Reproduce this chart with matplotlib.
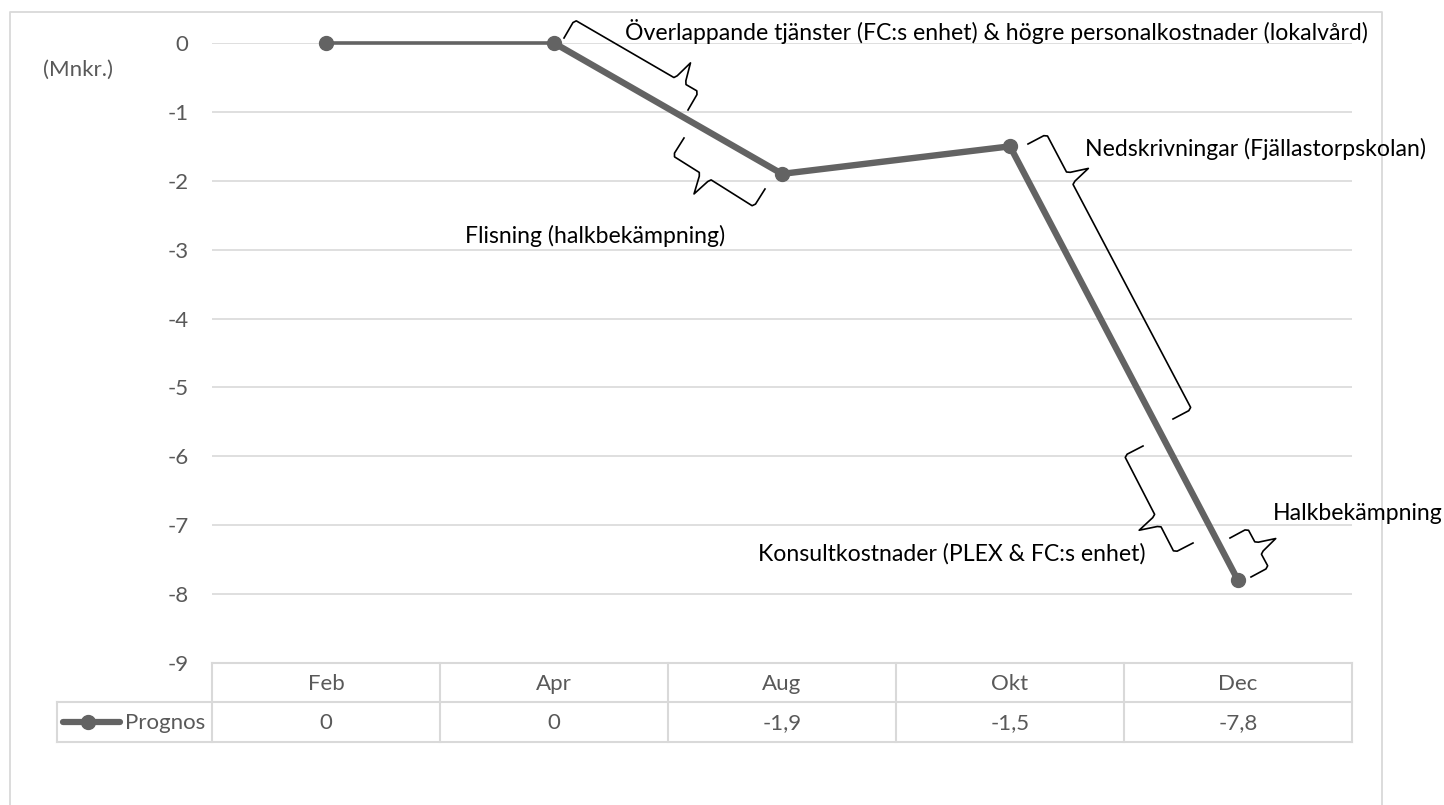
import numpy as np
import matplotlib
matplotlib.use("Agg")
import matplotlib.pyplot as plt
from matplotlib.transforms import blended_transform_factory

plt.rcParams['font.family'] = ['Lato', 'DejaVu Sans']

# ---------------- data ----------------
months = ["Feb", "Apr", "Aug", "Okt", "Dec"]
prognos = [0, 0, -1.9, -1.5, -7.8]
series_name = "Prognos"
y_ticks = [0, -1, -2, -3, -4, -5, -6, -7, -8, -9]
unit_label = "(Mnkr.)"
notes = [
    "Överlappande tjänster (FC:s enhet) & högre personalkostnader (lokalvård)",
    "Flisning (halkbekämpning)",
    "Nedskrivningar (Fjällastorpskolan)",
    "Konsultkostnader (PLEX & FC:s enhet)",
    "Halkbekämpning",
]

# ---------------- layout (pixels) ----------------
W, H = 1444, 805
PL, PR = 212, 1352          # plot area left/right
PT, PB = 43, 663            # y=0 and y=-9
ROW1, ROW2 = 702, 742       # table row boundaries
LEG_L = 57
LINE_C = "#636363"
GRID_C = "#d9d9d9"
TXT_C = "#595959"
FS_AX = 16
FS_NOTE = 16.6

fig = plt.figure(figsize=(W / 100, H / 100), dpi=100)
fig.patch.set_facecolor("white")

ax = fig.add_axes([PL / W, 1 - PB / H, (PR - PL) / W, (PB - PT) / H])
ax.set_xlim(-0.5, len(months) - 0.5)
ax.set_ylim(min(y_ticks), max(y_ticks))
for s in ax.spines.values():
    s.set_visible(False)
ax.set_xticks([])
ax.set_yticks(y_ticks)
ax.set_yticklabels([f"{v:d}" for v in y_ticks], color=TXT_C, fontsize=FS_AX)
ax.tick_params(axis="y", length=0, pad=17)
for v in y_ticks[:-1]:
    ax.axhline(v, color=GRID_C, lw=1.2, zorder=1)

x = np.arange(len(months))
# thin first segment, thick remaining
ax.plot(x[:2], prognos[:2], color=LINE_C, lw=2.6, zorder=3, clip_on=False, solid_capstyle="round")
ax.plot(x[1:], prognos[1:], color=LINE_C, lw=4.6, zorder=3, clip_on=False, solid_capstyle="round")
ax.plot(x, prognos, ls="none", marker="o", ms=10, color=LINE_C, zorder=4, clip_on=False)

# ---------------- overlay in pixel coordinates ----------------
ov = fig.add_axes([0, 0, 1, 1], zorder=5)
ov.set_xlim(0, W)
ov.set_ylim(H, 0)
ov.axis("off")
ov.patch.set_alpha(0)

# chart area border
ov.plot([10, 10, 1382, 1382], [H + 5, 12, 12, H + 5], color=GRID_C, lw=1.3)

# data table
ncol = len(months)
cw = (PR - PL) / ncol
tc = dict(color=GRID_C, lw=1.5, solid_capstyle="projecting")
ov.plot([PL, PR], [PB, PB], **tc)
ov.plot([LEG_L, PR], [ROW1, ROW1], **tc)
ov.plot([LEG_L, PR], [ROW2, ROW2], **tc)
ov.plot([LEG_L, LEG_L], [ROW1, ROW2], **tc)
for i in range(ncol + 1):
    ov.plot([PL + i * cw, PL + i * cw], [PB, ROW2], **tc)

tr = blended_transform_factory(ax.transData, ov.transData)
for i, (m, v) in enumerate(zip(months, prognos)):
    ax.text(i, (PB + ROW1) / 2 + 1, m, transform=tr, ha="center", va="center",
            color=TXT_C, fontsize=FS_AX)
    lab = f"{v:g}".replace(".", ",")
    ax.text(i, (ROW1 + ROW2) / 2 + 1, lab, transform=tr, ha="center", va="center",
            color=TXT_C, fontsize=FS_AX)

# legend key in the table
ly = (ROW1 + ROW2) / 2
ov.plot([63, 120], [ly, ly], color=LINE_C, lw=4.5, solid_capstyle="round")
ov.plot([88], [ly], marker="o", ms=10, color=LINE_C)
ov.text(205, ly + 1, series_name, ha="right", va="center", color=TXT_C, fontsize=FS_AX)

# unit label
ov.text(78, 70, unit_label, ha="center", va="center", color=TXT_C, fontsize=FS_AX)


# ---------------- braces ----------------
def brace(A, B, h, t, side):
    A = np.asarray(A, float)
    B = np.asarray(B, float)
    d = B - A
    L = np.hypot(*d)
    u = d / L
    n = side * np.array([u[1], -u[0]])
    S = A + h * n + 2 * u
    E = B + h * n - 2 * u
    M = A + t * d + h * n
    tip = A + t * d + 2 * h * n
    pts = np.array([A, A + 0.85 * h * n, S, M - 7 * u, M - 5 * u + 0.15 * h * n,
                    tip, M + 5 * u + 0.15 * h * n, M + 7 * u, E, B + 0.85 * h * n, B])
    ov.plot(pts[:, 0], pts[:, 1], color="black", lw=1.2, solid_joinstyle="round")


brace((564, 38), (688, 110), 21, 0.85, +1)
brace((684, 138), (765, 189), 21, 0.40, -1)
brace((1028, 144), (1173, 419), 21, 0.16, +1)
brace((1143, 446), (1193, 543), 21, 0.67, -1)
brace((1230, 538), (1251, 577), 20, 0.50, +1)

# annotation texts
ov.text(625, 31, notes[0], ha="left", va="center", fontsize=FS_NOTE, color="black")
ov.text(465, 236, notes[1], ha="left", va="center", fontsize=FS_NOTE, color="black")
ov.text(1085, 149, notes[2], ha="left", va="center", fontsize=FS_NOTE, color="black")
ov.text(758, 554, notes[3], ha="left", va="center", fontsize=FS_NOTE, color="black")
ov.text(1273, 513, notes[4], ha="left", va="center", fontsize=FS_NOTE, color="black")

fig.savefig("out.png", dpi=100, facecolor="white")
